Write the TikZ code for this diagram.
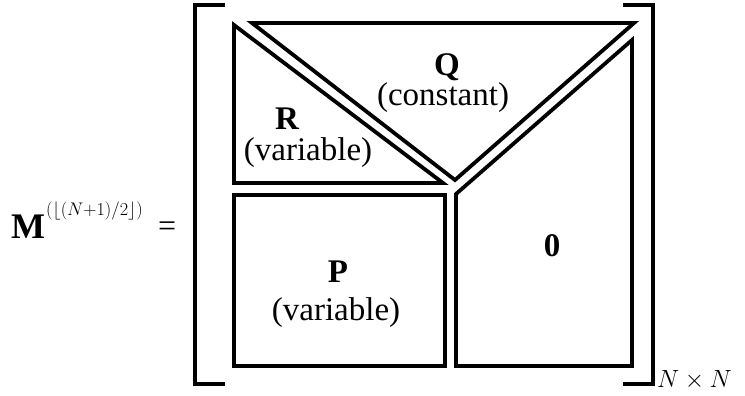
\documentclass[tikz,border=0pt]{standalone}
\usepackage{fontspec}
\setmainfont{Liberation Serif}
\begin{document}
\begin{tikzpicture}[x=1pt,y=-1pt,
  blk/.style={draw=black,line width=3.8pt,line join=miter},
  brk/.style={draw=black,line width=4.3pt},
  lbl/.style={anchor=base,inner sep=0pt,font=\fontsize{33}{33}\selectfont},
  bl/.style={anchor=base,inner sep=0pt,font=\fontsize{33}{33}\selectfont\bfseries}]
\useasboundingbox (0,0) rectangle (745,396);
% brackets
\coordinate (lt) at (225,5); \coordinate (ltc) at (195,5);
\coordinate (lbc) at (195,384); \coordinate (lb) at (225,384);
\coordinate (rt) at (623,5); \coordinate (rtc) at (653,5);
\coordinate (rbc) at (653,384); \coordinate (rb) at (623,384);
\draw[brk] (lt) -- (ltc) -- (lbc) -- (lb);
\draw[brk] (rt) -- (rtc) -- (rbc) -- (rb);
% R triangle
\draw[blk] (234,25) -- (234,183) -- (443,183) -- cycle;
% Q triangle
\draw[blk] (252,23) -- (634,23) -- (455,180) -- cycle;
% zero region
\draw[blk] (456,366) -- (456,194) -- (632,40) -- (632,366) -- cycle;
% P rectangle
\draw[blk] (234,195) rectangle (445,366);
% labels
\node[bl] (q) at (447,76) {Q};
\node[lbl] (qc) at (443,106) {(constant)};
\node[bl] (r) at (287,129) {R};
\node[lbl] (rv) at (308,160) {(variable)};
\node[bl] (p) at (338,282) {P};
\node[lbl] (pv) at (336,320) {(variable)};
\node[bl] (z) at (552,256) {0};
\node[anchor=base west,inner sep=0pt,font=\fontsize{36}{36}\selectfont\bfseries] (m) at (11,238) {M};
\node[anchor=base west,inner sep=0pt,font=\fontsize{20}{20}\selectfont] (sup) at (46,215)
  {\scalebox{0.88}{$\bigl(\lfloor (N{+}1)/2\rfloor\bigr)$}};
\node[anchor=base west,inner sep=0pt,font=\fontsize{32}{32}\selectfont] (eq) at (158,236) {=};
\node[anchor=base west,inner sep=0pt,font=\fontsize{31}{31}\selectfont] (nn) at (657,387) {$N\times N$};
\end{tikzpicture}
\end{document}
